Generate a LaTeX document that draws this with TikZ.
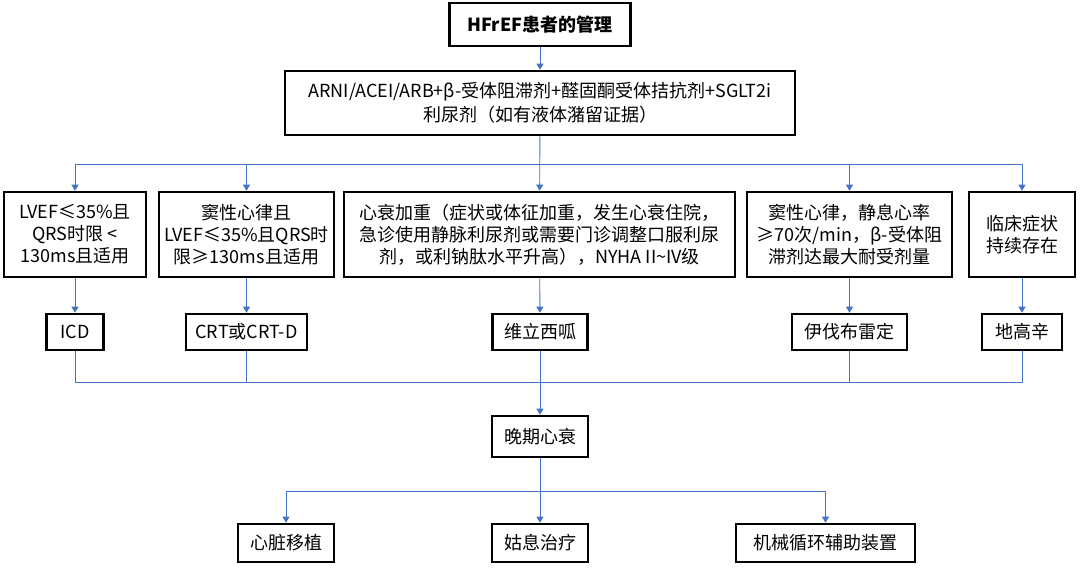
\documentclass[tikz,border=0pt]{standalone}
\usepackage{fontspec}
\setmainfont{Noto Sans CJK SC}
\usetikzlibrary{arrows.meta}
\definecolor{lnblue}{HTML}{4472C4}
\begin{document}
\begin{tikzpicture}[x=1pt,y=1pt,
  box/.style={draw=black,line width=2.6pt,fill=white,inner sep=0pt,align=center,
    font=\fontsize{18}{22}\selectfont},
  conn/.style={draw=lnblue,line width=0.9pt,-{Triangle[length=6pt,width=7pt]}},
  plain/.style={draw=lnblue,line width=0.9pt}]
\useasboundingbox (0,0) rectangle (1080,-571);
\fill[white] (0,0) rectangle (1080,-571);
% level 1
\node[box,minimum width=181,minimum height=43,font=\fontsize{18}{22}\selectfont\bfseries] (top) at (540,-24.5) {HFrEF患者的管理};
\node[box,minimum width=510,minimum height=64,font=\fontsize{18}{24}\selectfont] (base) at (540,-103) {ARNI/ACEI/ARB+β-受体阻滞剂+醛固酮受体拮抗剂+SGLT2i\\利尿剂（如有液体潴留证据）};
% level 3
\node[box,minimum width=142,minimum height=85] (A) at (75,-234.5) {LVEF≤35\%且\\QRS时限 <\\130ms且适用};
\node[box,minimum width=175,minimum height=85] (B) at (246.5,-234.5) {窦性心律且\\LVEF≤35\%且QRS时\\限≥130ms且适用};
\node[box,minimum width=391,minimum height=85] (C) at (539.5,-234.5) {心衰加重（症状或体征加重，发生心衰住院，\\急诊使用静脉利尿剂或需要门诊调整口服利尿\\剂，或利钠肽水平升高），NYHA II\char`~IV级};
\node[box,minimum width=205,minimum height=85] (D) at (849.5,-234.5) {窦性心律，静息心率\\≥70次/min，β-受体阻\\滞剂达最大耐受剂量};
\node[box,minimum width=106,minimum height=85] (E) at (1022,-234.5) {临床症状\\持续存在};
% level 4
\node[box,minimum width=57,minimum height=36] (icd) at (75,-332) {ICD};
\node[box,minimum width=121,minimum height=36] (crt) at (246.5,-332) {CRT或CRT-D};
\node[box,minimum width=95,minimum height=36] (vil) at (540,-332) {维立西呱};
\node[box,minimum width=115,minimum height=36] (iva) at (849.5,-332) {伊伐布雷定};
\node[box,minimum width=80,minimum height=36] (dig) at (1022,-332) {地高辛};
% level 5
\node[box,minimum width=96,minimum height=41] (late) at (540,-436.5) {晚期心衰};
% level 6
\node[box,minimum width=96,minimum height=38] (heart) at (286,-543) {心脏移植};
\node[box,minimum width=96,minimum height=38] (pal) at (540,-543) {姑息治疗};
\node[box,minimum width=179,minimum height=38] (mech) at (825.5,-543) {机械循环辅助装置};
% junctions
\coordinate (j1) at (540,-164);
\coordinate (j2) at (540,-382);
\coordinate (j3) at (540,-491);
% connectors
\draw[conn] (top) -- (base);
\draw[conn] (base) -- (C);
\draw[conn] (j1) -| (A.north);
\draw[conn] (j1) -| (B.north);
\draw[conn] (j1) -| (D.north);
\draw[conn] (j1) -| (E.north);
\draw[conn] (A) -- (icd);
\draw[conn] (B) -- (crt);
\draw[conn] (C) -- (vil);
\draw[conn] (D) -- (iva);
\draw[conn] (E) -- (dig);
\draw[plain] (icd.south) |- (j2);
\draw[plain] (crt.south) |- (j2);
\draw[plain] (iva.south) |- (j2);
\draw[plain] (dig.south) |- (j2);
\draw[conn] (vil) -- (late);
\draw[conn] (late) -- (pal);
\draw[conn] (j3) -| (heart.north);
\draw[conn] (j3) -| (mech.north);
\end{tikzpicture}
\end{document}
